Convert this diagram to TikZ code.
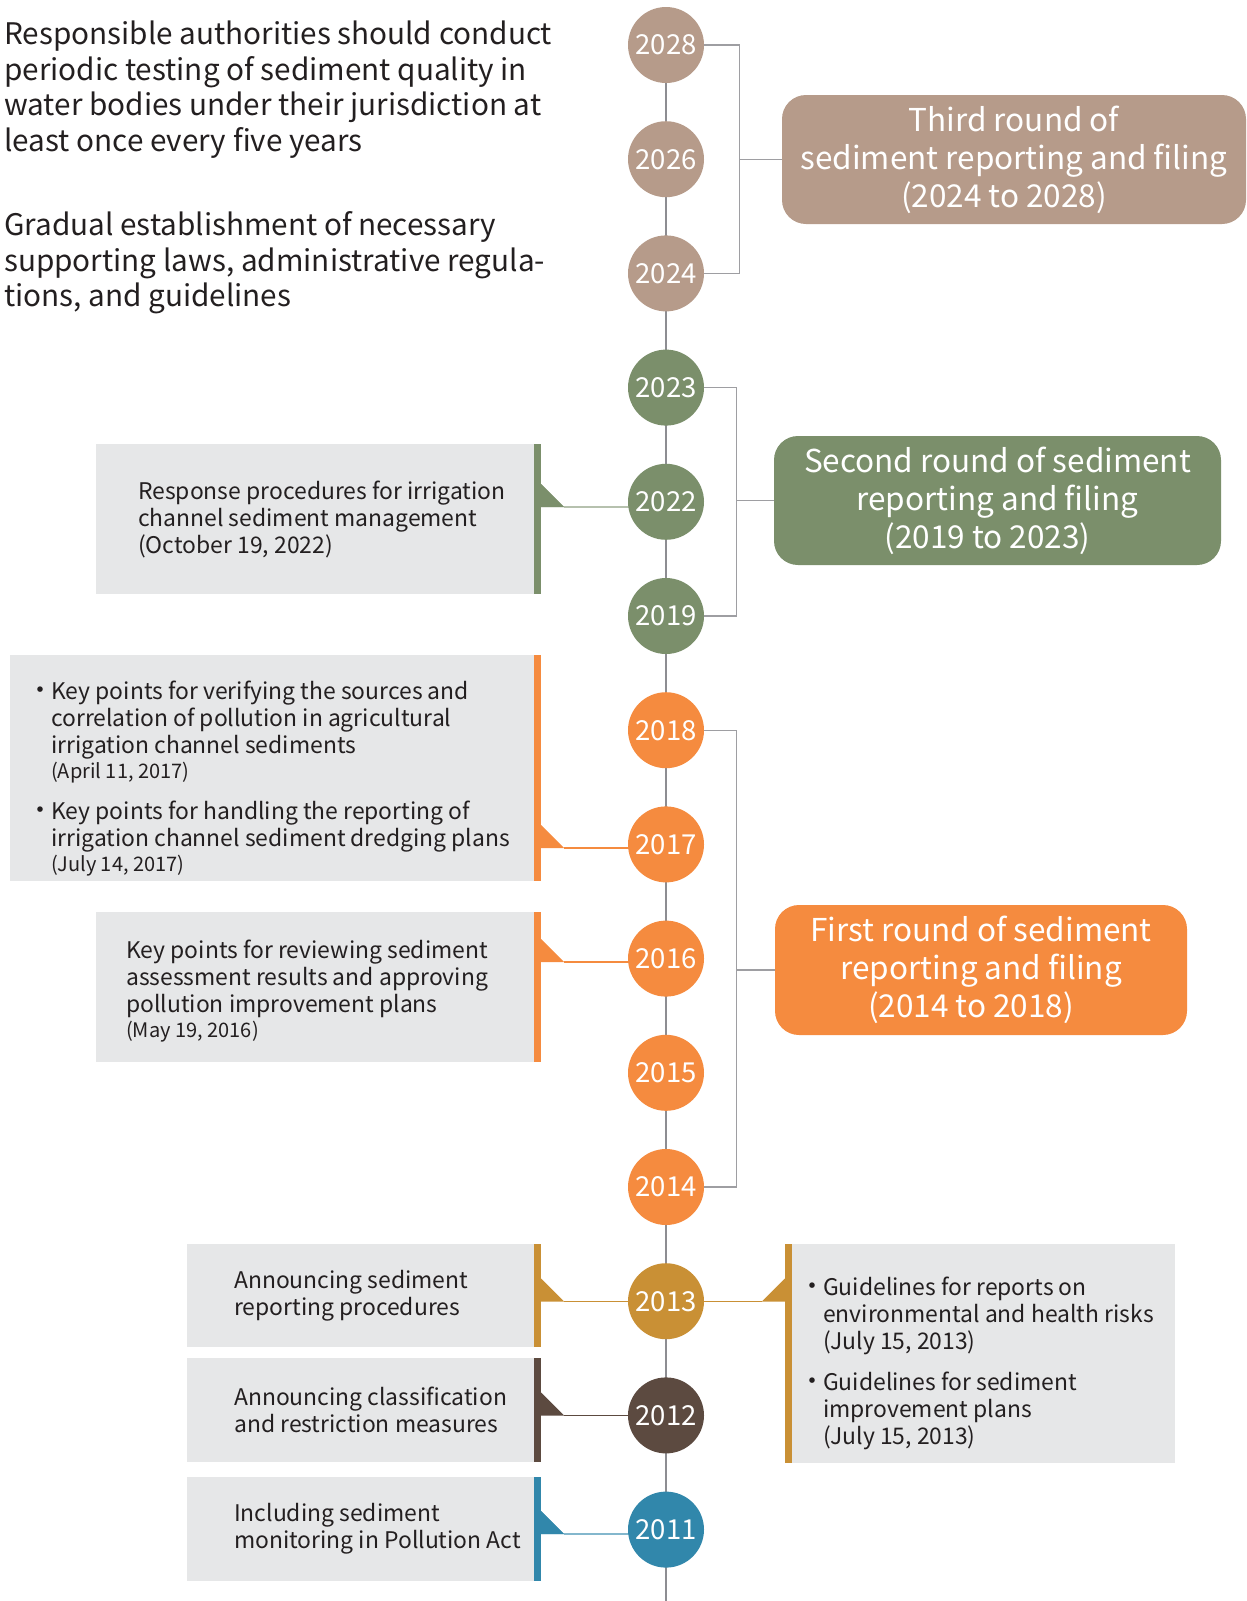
\documentclass[tikz,border=0pt]{standalone}
\usepackage{fontspec}
\setmainfont{Noto Sans CJK SC}
\usetikzlibrary{backgrounds,calc}
\definecolor{ctan}{HTML}{B69B8A}
\definecolor{cgreen}{HTML}{7B8F6B}
\definecolor{corange}{HTML}{F58B3F}
\definecolor{cgold}{HTML}{C99035}
\definecolor{cbrown}{HTML}{5C4A40}
\definecolor{cblue}{HTML}{3187AB}
\definecolor{cgbox}{HTML}{E6E7E8}
\definecolor{cline}{HTML}{8D8D92}
\definecolor{ctext}{HTML}{231F20}
\newcommand{\leftflag}[4]{%
  \fill[#2] (#1.north east) rectangle ($(#1.south east)+(-7.5,0)$);
  \fill[#2] ($(#1.east |- 0,#3)+(0,-23)$) -- ++(23,23) -- ++(-23,0) -- cycle;
  \coordinate (#1tip) at ($(#1.east |- 0,#3)+(23,0)$);
  \begin{pgfonlayer}{background}
    \draw[conn=#2] (#1tip) -- (#1tip -| #4);
  \end{pgfonlayer}}
\newcommand{\sbul}{\llap{{\fontsize{26}{26}\selectfont •}\hspace{-2pt}}}
\newcommand{\rpad}{\hspace*{20pt}}
\begin{document}
\begin{tikzpicture}[x=1pt,y=-1pt,
  yr/.style={circle,fill=#1,minimum size=76pt,inner sep=0pt,text=white,
    font=\fontsize{27.5}{27.5}\selectfont},
  rbox/.style={rounded corners=24pt,fill=#1,inner sep=0pt,text=white,align=center,
    font=\fontsize{31.5}{38}\selectfont},
  gbox/.style={fill=cgbox,inner sep=0pt},
  btext/.style={anchor=west,align=left,inner sep=0pt,text=ctext,
    font=\fontsize{22.9}{27}\selectfont},
  ttext/.style={anchor=west,align=left,inner sep=0pt,text=ctext,
    font=\fontsize{29.7}{35.5}\selectfont},
  tl/.style={draw=cline,line width=2.6pt},
  br/.style={draw=cline!85,line width=1.3pt},
  conn/.style={draw=#1,line width=1.8pt}]
\useasboundingbox (0,0) rectangle (1247,1601);

% year circles
\foreach \yr/\i/\col in {2028/0/ctan,2026/1/ctan,2024/2/ctan,
  2023/3/cgreen,2022/4/cgreen,2019/5/cgreen,
  2018/6/corange,2017/7/corange,2016/8/corange,2015/9/corange,2014/10/corange,
  2013/11/cgold,2012/12/cbrown,2011/13/cblue}
  \node[yr=\col] (c\yr) at (666,{45+114.2*\i}) {\yr};

\coordinate (tlend) at (666,1601);
\begin{pgfonlayer}{background}
  \draw[tl] (c2028.center) -- (tlend);
\end{pgfonlayer}

% top-left texts
\node[ttext] (t1) at (4,89.8) {Responsible authorities should conduct\\periodic testing of sediment quality in\\water bodies under their jurisdiction at\\least once every five years};
\node[ttext] (t2) at (4,263) {Gradual establishment of necessary\\supporting laws, administrative regula-\\tions, and guidelines};

% round boxes
\node[rbox=ctan,minimum width=464pt,minimum height=129pt] (box3) at (1014,159.5)
  {Third round of\\sediment reporting and filing\\(2024 to 2028)\rpad};
\node[rbox=cgreen,minimum width=447pt,minimum height=129pt] (box2) at (997.5,500.5)
  {Second round of sediment\\reporting and filing\\(2019 to 2023)\rpad};
\node[rbox=corange,minimum width=412pt,minimum height=130pt] (box1) at (981,970)
  {First round of sediment\\reporting and filing\\(2014 to 2018)\rpad};

% brackets
\draw[br] (c2028.east) -- ++(35,0) |- (c2024.east);
\draw[br] (box3.west) -- ++(-43,0);
\draw[br] (c2023.east) -- ++(32,0) |- (c2019.east);
\draw[br] (box2.west) -- ++(-38,0);
\draw[br] (c2018.east) -- ++(32,0) |- (c2014.east);
\draw[br] (box1.west) -- ++(-39,0);

% gray boxes
\node[gbox,minimum width=445pt,minimum height=150pt] (bA) at (318.5,519) {};
\node[gbox,minimum width=531pt,minimum height=226pt] (bB) at (275.5,768) {};
\node[gbox,minimum width=445pt,minimum height=150pt] (bC) at (318.5,987) {};
\node[gbox,minimum width=354pt,minimum height=103pt] (bD) at (364,1295.5) {};
\node[gbox,minimum width=354pt,minimum height=104pt] (bE) at (364,1410) {};
\node[gbox,minimum width=354pt,minimum height=104pt] (bF) at (364,1529) {};
\node[gbox,minimum width=390pt,minimum height=219pt] (bG) at (980,1353.5) {};

\leftflag{bA}{cgreen!55}{507}{c2022}
\fill[cgreen] (bA.north east) rectangle ($(bA.south east)+(-7.5,0)$);
\fill[cgreen] ($(bA.east |- 0,507)+(0,-23)$) -- ++(23,23) -- ++(-23,0) -- cycle;
\leftflag{bB}{corange}{848}{c2017}
\leftflag{bC}{corange}{962}{c2016}
\leftflag{bD}{cgold}{1301.5}{c2013}
\leftflag{bE}{cbrown}{1415.5}{c2012}
\leftflag{bF}{cblue!60}{1534}{c2011}
\fill[cblue] (bF.north east) rectangle ($(bF.south east)+(-7.5,0)$);
\fill[cblue] ($(bF.east |- 0,1534)+(0,-23)$) -- ++(23,23) -- ++(-23,0) -- cycle;

% right flag for 2013
\fill[cgold] (bG.north west) rectangle ($(bG.south west)+(7.5,0)$);
\fill[cgold] ($(bG.west |- 0,1301.5)+(0,-23)$) -- ++(-23,23) -- ++(23,0) -- cycle;
\coordinate (bGtip) at ($(bG.west |- 0,1301.5)+(-23,0)$);
\begin{pgfonlayer}{background}
  \draw[conn=cgold] (bGtip) -- (bGtip -| c2013);
\end{pgfonlayer}

% box texts
\node[btext] (tA) at (138,519.5) {Response procedures for irrigation\\channel sediment management\\(October 19, 2022)};
\node[btext] (tB) at (51,779) {\sbul Key points for verifying the sources and\\correlation of pollution in agricultural\\irrigation channel sediments\\[-2pt]{\fontsize{20}{22}\selectfont (April 11, 2017)}\\[14pt]\sbul Key points for handling the reporting of\\irrigation channel sediment dredging plans\\[-2pt]{\fontsize{20}{22}\selectfont (July 14, 2017)}};
\node[btext] (tC) at (126,991) {Key points for reviewing sediment\\assessment results and approving\\pollution improvement plans\\[-2pt]{\fontsize{20}{22}\selectfont (May 19, 2016)}};
\node[btext] (tD) at (234,1296) {Announcing sediment\\reporting procedures};
\node[btext] (tE) at (234,1410) {Announcing classification\\and restriction measures};
\node[btext] (tF) at (234,1529) {Including sediment\\monitoring in Pollution Act};
\node[btext] (tG) at (823,1363) {\sbul Guidelines for reports on\\environmental and health risks\\(July 15, 2013)\\[14pt]\sbul Guidelines for sediment\\improvement plans\\(July 15, 2013)};
\end{tikzpicture}
\end{document}
